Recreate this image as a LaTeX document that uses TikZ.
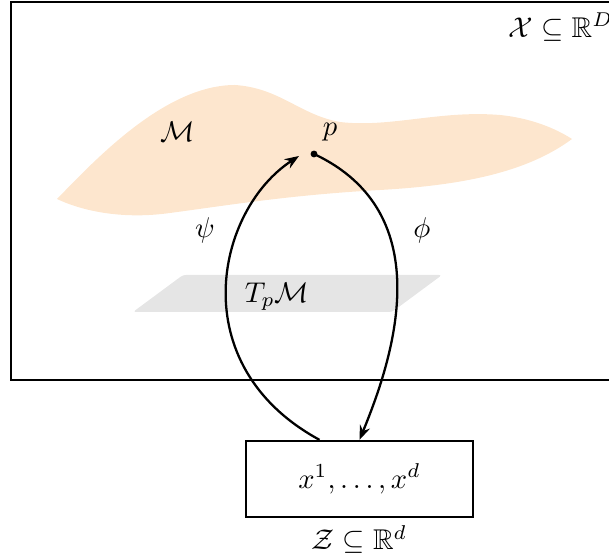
\documentclass[tikz,border=0pt]{standalone}
\usepackage{tikz}
\usetikzlibrary{arrows.meta, positioning, calc}
\usepackage{amsmath, amssymb}
\usepackage{xcolor}
\definecolor{manifoldcolor}{RGB}{253,230,206}
\definecolor{planecolor}{RGB}{229,229,229}
\tikzset{
  space/.style  = {draw, thick},
  chart/.style  = {->, >={Stealth[length=5pt]}, thick},
  latent/.style = {draw, thick, minimum width=227*0.35pt, minimum height=76*0.35pt,
                   inner sep=0pt},
  pt/.style     = {circle, fill, inner sep=0pt, minimum size=2.4pt},
}

\begin{document}
\begin{tikzpicture}[x=0.35pt, y=-0.35pt]
  \useasboundingbox (0,0) rectangle (609,558);
  % ambient space X
  \draw[space] (11,2) rectangle (640,380);
  \node (xlabel) at (561,27) {$\mathcal{X} \subseteq \mathbb{R}^D$};
  % manifold M
  \fill[manifoldcolor] (57,199) .. controls (95,160) and (165,85) .. (235,85)
    .. controls (280,88) and (300,115) .. (340,122)
    .. controls (390,128) and (440,110) .. (500,115)
    .. controls (530,118) and (555,128) .. (572,139)
    .. controls (530,170) and (470,185) .. (380,190)
    .. controls (290,195) and (230,205) .. (170,213)
    .. controls (120,220) and (80,210) .. (57,199) -- cycle;
  \node (mlabel) at (178,132) {$\mathcal{M}$};
  % tangent plane
  \fill[planecolor, rounded corners=1pt] (133,312) -- (183,275) -- (442,275) -- (392,312) -- cycle;
  \node (tplabel) at (277,297) {$T_p\mathcal{M}$};
  % point p
  \node[pt] (p) at (314,154) {};
  \node (plabel) at (330,132) {$p$};
  % latent space Z
  \node[latent] (zbox) at (359.5,479) {$x^1, \ldots, x^d$};
  \node[below=-1pt of zbox] (zlabel) {$\mathcal{Z} \subseteq \mathbb{R}^d$};
  % charts
  \coordinate (psistart) at ([xshift=-40*0.35pt]zbox.north);
  \coordinate (psiend) at (299,156);
  \draw[chart] (psistart) .. controls (182,365) and (216,210) .. (psiend);
  \draw[chart] (p.center) .. controls (442,214) and (392,361) .. (zbox.north);
  \node (psi) at (205,230) {$\psi$};
  \node (phi) at (422,230) {$\phi$};
\end{tikzpicture}
\end{document}
